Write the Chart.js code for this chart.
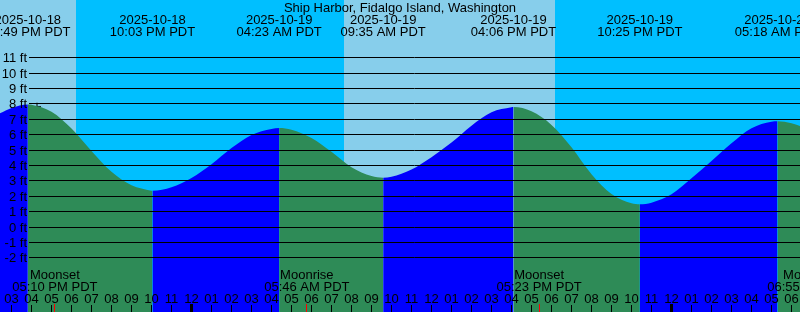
<!DOCTYPE html>
<html>
<head>
<meta charset="utf-8">
<title>Ship Harbor, Fidalgo Island, Washington</title>
<script src="https://cdn.jsdelivr.net/npm/chart.js@4.4.1/dist/chart.umd.min.js"></script>
<style>
  html, body { margin: 0; padding: 0; background: #fff; }
  canvas { display: block; }
</style>
</head>
<body>
<canvas id="graficaMarea" width="800" height="312"></canvas>
<script>
// horas contadas desde 2025-10-19 00:00 PDT
const titulo = 'Ship Harbor, Fidalgo Island, Washington';

const horaInicio = -9.575;
const horaFin = 30.425;
const alturaMin = -5.55;
const alturaMax = 14.71;
const nivelesPies = [-2, -1, 0, 1, 2, 3, 4, 5, 6, 7, 8, 9, 10, 11];

// lecturas de la curva (pies), cada hora
const horasLectura = [-9.575, -9, -8, -7, -6, -5, -4, -3, -2, -1, 0, 1, 2, 3, 4, 5, 6, 7, 8, 9,
  10, 11, 12, 13, 14, 15, 16, 17, 18, 19, 20, 21, 22, 23, 24, 25, 26, 27, 28, 29, 30, 30.425];
const alturasLectura = [7.35, 7.7, 7.9, 7.45, 6.36, 4.9, 3.55, 2.68, 2.33, 2.55, 3.15, 4.05, 5.1, 5.95, 6.34, 6.29, 5.75, 4.85, 3.85, 3.28,
  3.23, 3.7, 4.5, 5.45, 6.55, 7.42, 7.74, 7.48, 6.6, 5.15, 3.4, 2.12, 1.51, 1.55, 2.09, 3.13, 4.25, 5.4, 6.38, 6.81, 6.7, 6.53];

// pleamares y bajamares
const horasMarea = [-8.183, -1.95, 4.383, 9.583, 16.1, 22.417, 29.3];
const alturasMarea = [7.93, 2.32, 6.4, 3.17, 7.76, 1.44, 6.83];
const fechasMarea = ['2025-10-18', '2025-10-18', '2025-10-19', '2025-10-19', '2025-10-19', '2025-10-19', '2025-10-20'];
const textosMarea = ['03:49 PM PDT', '10:03 PM PDT', '04:23 AM PDT', '09:35 AM PDT', '04:06 PM PDT', '10:25 PM PDT', '05:18 AM PDT'];

// sol (solo fondo) y luna
const horasSol = [-5.775, 7.625, 18.175];
const tiposSol = ['set', 'rise', 'set'];
const horasLuna = [-6.833, 5.767, 17.383, 30.917];
const nombresLuna = ['Moonset', 'Moonrise', 'Moonset', 'Moonrise'];
const textosLuna = ['05:10 PM PDT', '05:46 AM PDT', '05:23 PM PDT', '06:55 AM PDT'];

// marca "+" de la hora actual
const horaAhora = -7.725;
const alturaAhora = 7.78;

const fuente = '13px "Liberation Sans", Arial, sans-serif';

// juntar lecturas y extremos en una sola serie
const puntosMarea = [];
horasLectura.forEach((h, i) => puntosMarea.push({x: h, y: alturasLectura[i]}));
horasMarea.forEach((h, i) => puntosMarea.push({x: h, y: alturasMarea[i]}));
puntosMarea.sort((a, b) => a.x - b.x);

function etiquetaHora(h) {
  let h12 = ((h % 24) + 24) % 24 % 12;
  if (h12 === 0) h12 = 12;
  return String(h12).padStart(2, '0');
}

const pluginMarea = {
  id: 'pluginMarea',
  beforeDatasetsDraw(chart) {
    const {ctx, chartArea, scales: {x}} = chart;
    // franjas de dia / noche
    const limites = [horaInicio, ...horasSol, horaFin];
    ctx.save();
    for (let i = 0; i < limites.length - 1; i++) {
      const esDia = i === 0 ? tiposSol[0] === 'set' : tiposSol[i - 1] === 'rise';
      const x0 = Math.round(x.getPixelForValue(limites[i]));
      const x1 = Math.round(x.getPixelForValue(limites[i + 1]));
      ctx.fillStyle = esDia ? '#87ceeb' : '#00bfff';
      ctx.fillRect(x0, chartArea.top, x1 - x0, chartArea.bottom - chartArea.top);
    }
    ctx.restore();
  },
  afterDatasetsDraw(chart) {
    const {ctx, chartArea, scales: {x, y}} = chart;
    ctx.save();
    ctx.font = fuente;
    ctx.fillStyle = '#000';
    ctx.strokeStyle = '#000';
    ctx.lineWidth = 1;

    // lineas de nivel y etiquetas en pies
    nivelesPies.forEach(v => {
      const yy = Math.round(y.getPixelForValue(v)) + 0.5;
      ctx.beginPath();
      ctx.moveTo(29, yy);
      ctx.lineTo(chartArea.right, yy);
      ctx.stroke();
      ctx.textAlign = 'right';
      ctx.fillText(v + ' ft', 27, yy + 4);
    });

    // titulo
    ctx.textAlign = 'center';
    ctx.fillText(titulo, chartArea.left + (chartArea.right - chartArea.left) / 2, 12);

    // pleamares / bajamares arriba
    horasMarea.forEach((h, i) => {
      const px = x.getPixelForValue(h);
      ctx.fillText(fechasMarea[i], px, 24);
      ctx.fillText(textosMarea[i], px, 36);
    });

    // eventos de luna abajo
    horasLuna.forEach((h, i) => {
      const px = x.getPixelForValue(h);
      ctx.fillText(nombresLuna[i], px, 279);
      ctx.fillText(textosLuna[i], px, 291);
    });

    // horas y marcas
    for (let h = Math.ceil(horaInicio); h <= Math.floor(horaFin); h++) {
      const px = Math.floor(x.getPixelForValue(h)) + 0.5;
      ctx.fillText(etiquetaHora(h), px, 303);
      if (h % 24 === 0) {
        ctx.fillRect(px - 1.5, 304, 3, 8);
      } else {
        ctx.beginPath();
        ctx.moveTo(px, 305);
        ctx.lineTo(px, chartArea.bottom);
        ctx.stroke();
      }
    }

    ctx.strokeStyle = '#ff0000';
    horasLuna.forEach(h => {
      const px = Math.floor(x.getPixelForValue(h)) + 0.5;
      ctx.beginPath();
      ctx.moveTo(px, 304);
      ctx.lineTo(px, chartArea.bottom);
      ctx.stroke();
    });
    ctx.restore();
  }
};

const ctx = document.getElementById('graficaMarea').getContext('2d');
const miGrafica = new Chart(ctx, {
  type: 'line',
  data: {
    datasets: [{
      label: 'Marea',
      data: puntosMarea,
      borderWidth: 0,
      pointRadius: 0,
      fill: 'start',
      backgroundColor: '#2e8b57',
      cubicInterpolationMode: 'monotone',
      segment: {
        // subiendo = azul, bajando = verde
        backgroundColor: c => c.p1.parsed.y > c.p0.parsed.y ? '#0000ff' : '#2e8b57'
      }
    }, {
      label: 'Ahora',
      data: [{x: horaAhora, y: alturaAhora}],
      showLine: false,
      pointStyle: 'cross',
      pointRadius: 4,
      borderColor: '#000',
      borderWidth: 1
    }]
  },
  options: {
    responsive: false,
    animation: false,
    events: [],
    layout: { padding: 0, autoPadding: false },
    plugins: { legend: { display: false }, tooltip: { enabled: false } },
    scales: {
      x: { type: 'linear', min: horaInicio, max: horaFin, display: false },
      y: { type: 'linear', min: alturaMin, max: alturaMax, display: false }
    }
  },
  plugins: [pluginMarea]
});
</script>
</body>
</html>
